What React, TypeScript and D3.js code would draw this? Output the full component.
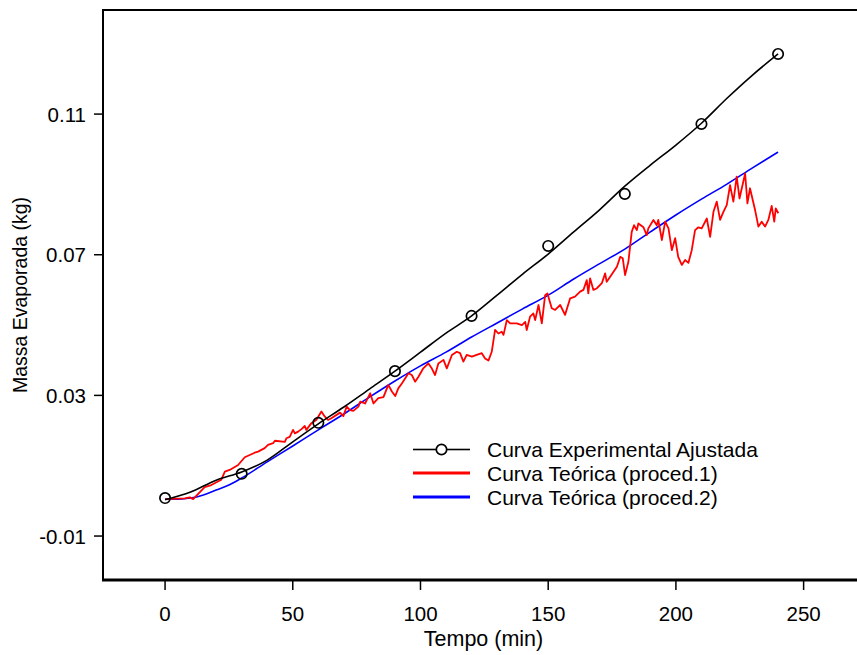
import React from 'react';
import * as d3 from 'd3';

const W = 857;
const H = 655;

// Experimental points (circles)
const expTimes = [0, 30, 60, 90, 120, 150, 180, 210, 240];
const expValues = [0.0008, 0.0077, 0.0222, 0.0369, 0.0526, 0.0725, 0.0873, 0.1072, 0.1271];

// Fitted experimental curve
const fitTimes = [0, 10, 20, 30, 40, 50, 60, 70, 80, 90, 100, 110, 120, 130, 140, 150, 160, 170, 180, 190, 200, 210, 220, 230, 240];
const fitValues = [0.0003, 0.0025, 0.0059, 0.0082, 0.0116, 0.0168, 0.0219, 0.0267, 0.0318, 0.0369, 0.0423, 0.0477, 0.0526, 0.0585, 0.0645, 0.0702, 0.0765, 0.0827, 0.0895, 0.0955, 0.1012, 0.1074, 0.1145, 0.1211, 0.1271];

// Theoretical curve, procedure 2 (blue)
const proc2Times = [0, 5, 10, 15, 20, 25, 30, 40, 50, 60, 70, 80, 90, 100, 110, 120, 130, 140, 150, 160, 170, 180, 190, 200, 210, 220, 230, 240];
const proc2Values = [0.0005, 0.0005, 0.0008, 0.0017, 0.0031, 0.0045, 0.0065, 0.0111, 0.0156, 0.0202, 0.0247, 0.0295, 0.0341, 0.0384, 0.0423, 0.0466, 0.0506, 0.0546, 0.0585, 0.0631, 0.0674, 0.0716, 0.0765, 0.0813, 0.0858, 0.0901, 0.0947, 0.0992];

// Theoretical curve, procedure 1 (red)
const proc1Times = [0, 7.7, 9.7, 11.0, 15.5, 18.1, 22.0, 23.4, 25.3, 28.6, 31.2, 35.1, 36.4, 39.0, 40.3, 42.3, 43.0, 46.9, 47.5, 48.8, 50.1, 50.8, 52.1, 53.4, 54.7, 55.3, 57.3, 59.2, 61.2, 62.5, 63.8, 65.1, 68.5, 69.8, 71.1, 72.4, 73.7, 75.7, 76.4, 78.3, 80.3, 81.6, 83.5, 85.5, 87.4, 88.8, 90.1, 91.3, 92.7, 95.3, 96.6, 97.9, 99.2, 101.1, 103.1, 104.4, 105.7, 107.0, 109.0, 110.3, 112.3, 114.2, 115.5, 116.8, 118.1, 120.1, 122.0, 124.0, 125.3, 126.6, 127.9, 129.2, 130.5, 131.8, 132.5, 133.8, 135.1, 137.7, 139.7, 141.0, 141.6, 142.9, 144.2, 144.9, 146.2, 147.5, 148.8, 149.7, 151.4, 152.7, 154.7, 156.6, 158.6, 160.5, 162.5, 163.8, 165.1, 165.7, 166.4, 167.7, 169.0, 171.0, 172.3, 172.9, 174.2, 176.9, 178.2, 179.2, 180.1, 181.4, 182.7, 183.6, 184.7, 185.3, 187.3, 188.6, 189.2, 191.2, 192.5, 193.1, 194.5, 195.8, 197.1, 198.4, 199.7, 200.9, 202.3, 203.6, 204.9, 206.2, 207.5, 208.8, 210.1, 212.1, 213.4, 214.7, 216.0, 217.3, 218.6, 219.9, 221.2, 222.5, 223.8, 224.9, 227.1, 228.0, 229.0, 231.0, 232.3, 233.6, 234.9, 236.2, 237.5, 238.5, 239.1, 240.1];
const proc1Values = [0.0005, 0.0007, 0.0010, 0.0005, 0.0039, 0.0045, 0.0060, 0.0083, 0.0088, 0.0102, 0.0124, 0.0137, 0.0140, 0.0150, 0.0159, 0.0164, 0.0171, 0.0168, 0.0178, 0.0182, 0.0202, 0.0192, 0.0197, 0.0204, 0.0213, 0.0202, 0.0221, 0.0230, 0.0254, 0.0240, 0.0230, 0.0235, 0.0251, 0.0241, 0.0268, 0.0258, 0.0256, 0.0268, 0.0282, 0.0277, 0.0306, 0.0277, 0.0292, 0.0295, 0.0330, 0.0311, 0.0298, 0.0320, 0.0334, 0.0363, 0.0358, 0.0339, 0.0353, 0.0377, 0.0391, 0.0377, 0.0358, 0.0391, 0.0401, 0.0377, 0.0415, 0.0424, 0.0420, 0.0396, 0.0415, 0.0410, 0.0415, 0.0420, 0.0405, 0.0399, 0.0424, 0.0486, 0.0476, 0.0481, 0.0472, 0.0514, 0.0505, 0.0505, 0.0500, 0.0509, 0.0486, 0.0524, 0.0533, 0.0514, 0.0557, 0.0505, 0.0585, 0.0590, 0.0548, 0.0543, 0.0557, 0.0529, 0.0576, 0.0581, 0.0595, 0.0600, 0.0628, 0.0590, 0.0633, 0.0600, 0.0604, 0.0619, 0.0647, 0.0623, 0.0637, 0.0666, 0.0694, 0.0690, 0.0642, 0.0680, 0.0765, 0.0784, 0.0770, 0.0789, 0.0778, 0.0756, 0.0775, 0.0799, 0.0784, 0.0799, 0.0742, 0.0794, 0.0775, 0.0713, 0.0747, 0.0694, 0.0671, 0.0685, 0.0677, 0.0713, 0.0770, 0.0778, 0.0775, 0.0803, 0.0751, 0.0822, 0.0851, 0.0799, 0.0822, 0.0841, 0.0898, 0.0851, 0.0922, 0.0860, 0.0931, 0.0846, 0.0889, 0.0827, 0.0780, 0.0794, 0.0780, 0.0799, 0.0839, 0.0794, 0.0832, 0.0818];

const xTicks = [0, 50, 100, 150, 200, 250];
const yTicks = [-0.01, 0.03, 0.07, 0.11];
const yTickLabels = ['-0.01', '0.03', '0.07', '0.11'];

const xTitle = 'Tempo (min)';
const yTitle = 'Massa Evaporada (kg)';
const legendLabels = ['Curva Experimental Ajustada', 'Curva Teórica (proced.1)', 'Curva Teórica (proced.2)'];
const legendColors = ['#000000', '#ff0000', '#0000ff'];

const FONT = '"Liberation Sans", Arial, sans-serif';

export default function App() {
  const left = 103, right = 857, top = 10, bottom = 580;
  const x = d3.scaleLinear().domain([-24.3, 270.9]).range([left, right]);
  const y = d3.scaleLinear().domain([-0.0225, 0.1396]).range([bottom, top]);

  type P = [number, number];
  const zip = (ts: number[], vs: number[]): P[] => ts.map((t, i) => [t, vs[i]]);

  const lineLin = d3.line<P>().x(d => x(d[0])).y(d => y(d[1]));
  const lineSmooth = d3.line<P>().x(d => x(d[0])).y(d => y(d[1])).curve(d3.curveMonotoneX);

  const legX1 = 413, legX2 = 470, legTextX = 487;
  const legY = [449.5, 473, 497];

  return (
    <svg width={W} height={H} style={{ position: 'absolute', left: 0, top: 0, background: '#fff' }}
      fontFamily={FONT}>
      <rect x={0} y={0} width={W} height={H} fill="#fff" />
      {/* curves */}
      <path d={lineSmooth(zip(proc2Times, proc2Values)) || ''} fill="none" stroke="#0000ff" strokeWidth={1.6} />
      <path d={lineLin(zip(proc1Times, proc1Values)) || ''} fill="none" stroke="#ff0000" strokeWidth={1.8} strokeLinejoin="round" />
      <path d={lineSmooth(zip(fitTimes, fitValues)) || ''} fill="none" stroke="#000" strokeWidth={1.6} />
      {expTimes.map((t, i) => (
        <circle key={i} cx={x(t)} cy={y(expValues[i])} r={5.2} fill="none" stroke="#000" strokeWidth={1.7} />
      ))}

      {/* frame */}
      <line x1={left} x2={right} y1={top} y2={top} stroke="#000" strokeWidth={2} />
      <line x1={left} x2={left} y1={top - 1} y2={bottom} stroke="#000" strokeWidth={2} />
      <line x1={left - 1} x2={right} y1={bottom} y2={bottom} stroke="#000" strokeWidth={3.2} />

      {/* x axis */}
      {xTicks.map(t => (
        <g key={t}>
          <line x1={x(t)} x2={x(t)} y1={bottom} y2={bottom + 10} stroke="#000" strokeWidth={1.5} />
          <text x={x(t)} y={613} textAnchor="middle" dominantBaseline="central" fontSize={20.5}>{t}</text>
        </g>
      ))}
      <text x={483.5} y={639} textAnchor="middle" dominantBaseline="central" fontSize={21.5}>{xTitle}</text>

      {/* y axis */}
      {yTicks.map((v, i) => (
        <g key={v}>
          <line x1={left - 9} x2={left} y1={y(v)} y2={y(v)} stroke="#000" strokeWidth={1.5} />
          <text x={86} y={y(v)} textAnchor="end" dominantBaseline="central" fontSize={20.5}>{yTickLabels[i]}</text>
        </g>
      ))}
      <text transform={`translate(20, ${(top + bottom) / 2}) rotate(-90)`} textAnchor="middle" dominantBaseline="central" fontSize={19.5}>{yTitle}</text>

      {/* legend */}
      {legendLabels.map((lab, i) => (
        <g key={lab}>
          {i === 0 ? (
            <>
              <line x1={legX1} x2={(legX1 + legX2) / 2 - 5} y1={legY[i]} y2={legY[i]} stroke="#000" strokeWidth={1.6} />
              <line x1={(legX1 + legX2) / 2 + 5} x2={legX2} y1={legY[i]} y2={legY[i]} stroke="#000" strokeWidth={1.6} />
              <circle cx={(legX1 + legX2) / 2} cy={legY[i]} r={5.2} fill="none" stroke="#000" strokeWidth={1.7} />
            </>
          ) : (
            <line x1={legX1} x2={legX2} y1={legY[i]} y2={legY[i]} stroke={legendColors[i]} strokeWidth={3} />
          )}
          <text x={legTextX} y={legY[i]} dominantBaseline="central" fontSize={21}>{lab}</text>
        </g>
      ))}
    </svg>
  );
}
